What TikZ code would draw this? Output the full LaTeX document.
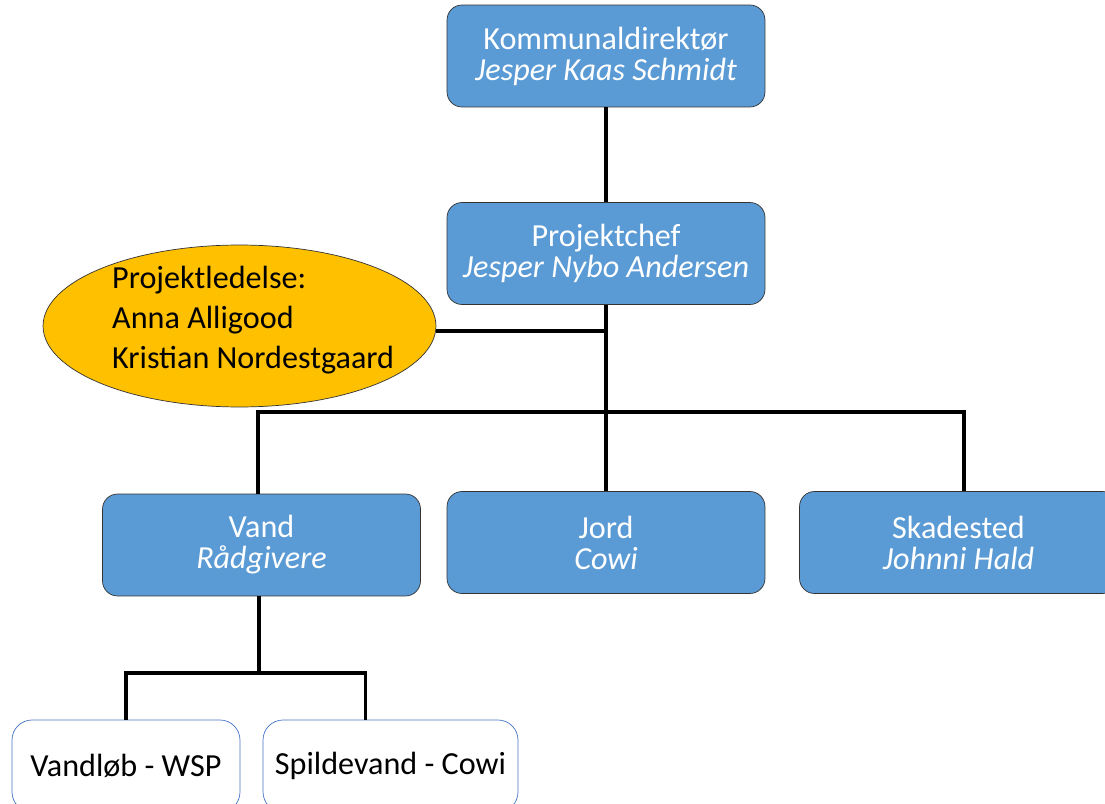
\documentclass[tikz,border=0pt]{standalone}
\usepackage{fontspec}
\setmainfont{Carlito}
\usepackage{tikz}
\usetikzlibrary{shapes.geometric, positioning}
\definecolor{boxblue}{HTML}{5B9BD5}
\definecolor{ledergul}{HTML}{FFC000}
\definecolor{kantblaa}{HTML}{4472C4}

\begin{document}
\begin{tikzpicture}[x=0.02cm,y=-0.02cm,
    chefbox/.style={draw=black!80, fill=boxblue, rounded corners=0.3cm, text=white,
        minimum width=6.36cm, minimum height=2.04cm, align=center,
        font=\fontsize{18.3}{17.6}\selectfont},
    underbox/.style={draw=kantblaa, fill=white, rounded corners=0.4cm,
        minimum height=1.84cm, font=\fontsize{18.3}{18}\selectfont},
    ellipsebox/.style={draw=black!80, fill=ledergul, ellipse,
        minimum width=7.86cm, minimum height=3.24cm},
    forbind/.style={line width=2.2pt, black}]
\useasboundingbox (0,0) rectangle (1105,804);

    \node[chefbox] (direktor) at (606,56) {Kommunaldirektør\\\textit{Jesper Kaas Schmidt}};
    \node[chefbox] (chef) at (606,253.5) {Projektchef\\\textit{Jesper Nybo Andersen}};
    \node[ellipsebox] (ledelse) at (239.5,326) {};
    \node[anchor=west, align=left, font=\fontsize{18.3}{22.7}\selectfont] (ledelsetxt) at (106,320)
        {Projektledelse:\\Anna Alligood\\Kristian Nordestgaard};
    \node[chefbox] (vand) at (261.5,545) {Vand\\\textit{Rådgivere}};
    \node[chefbox] (jord) at (606,542.5) {Jord\\\textit{Cowi}};
    \node[chefbox] (skade) at (958.5,542.5) {Skadested\\\textit{Johnni Hald}};
    \node[underbox, minimum width=4.56cm] (wsp) at (126,766) {Vandløb - WSP};
    \node[underbox, minimum width=5.1cm] (spv) at (390.5,766) {Spildevand - Cowi};

    \coordinate (pl) at (606,331);
    \coordinate (bus) at (606,412);
    \coordinate (sub) at (259,673);

    % forbindelser
    \draw[forbind] (direktor.south) -- (chef.north);
    \draw[forbind] (chef.south) -- (jord.north);
    \draw[forbind] (pl) -- (pl -| ledelse.east);
    \draw[forbind] ([xshift=-0.07cm]vand.north) |- (bus) -| ([xshift=0.11cm]skade.north);
    \draw[forbind] (sub |- vand.south) -- (sub);
    \draw[forbind] (wsp.north) |- (sub) -| ([xshift=-0.5cm]spv.north);

\end{tikzpicture}
\end{document}
